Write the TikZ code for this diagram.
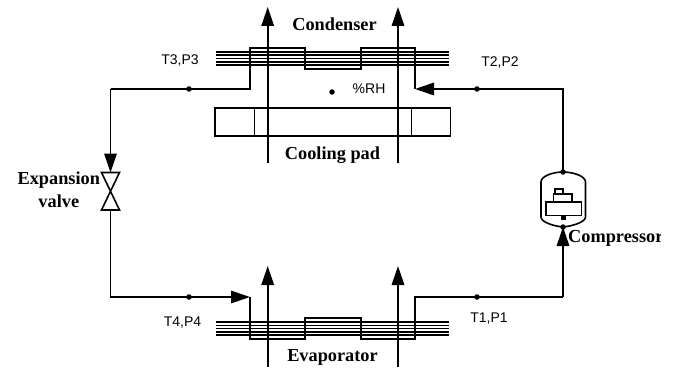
\documentclass[tikz,border=0pt]{standalone}
\usepackage{fontspec}
\setmainfont{Liberation Serif}
\setsansfont{Liberation Sans}
\usetikzlibrary{arrows.meta}
\tikzset{
pipe/.style={line width=1.6pt, line join=miter},
flow/.style={pipe, -{Triangle[length=19pt, width=12.5pt]}},
sensor/.style={shape=circle, fill, minimum size=5.5pt, inner sep=0},
part/.style={font=\bfseries\fontsize{18.3}{23}\selectfont, align=center, inner sep=0},
probe/.style={font=\sffamily\fontsize{14}{16}\selectfont, inner sep=0}}

\begin{document}
\begin{tikzpicture}[x=1pt, y=-1pt]
\useasboundingbox (0,0) rectangle (675,369);
% condenser and evaporator fins
\foreach \fy [count=\f] in {52,55.3,58.6,62,65}{
      \coordinate (c-l-\f) at (216,\fy);
      \coordinate (c-r-\f) at (449,\fy);
      \draw [pipe] (c-l-\f) -- (c-r-\f);
}
\foreach \fy [count=\f] in {322,325.3,328.6,332,335}{
      \coordinate (e-l-\f) at (216,\fy);
      \coordinate (e-r-\f) at (449,\fy);
      \draw [pipe] (e-l-\f) -- (e-r-\f);
}
% air streams
\foreach \ax [count=\a] in {267.7,398}{
      \coordinate (ctail-\a) at (\ax,163);
      \coordinate (ctip-\a) at (\ax,7);
      \coordinate (etail-\a) at (\ax,367);
      \coordinate (etip-\a) at (\ax,266);
      \draw [flow] (ctail-\a) -- (ctip-\a);
      \draw [flow] (etail-\a) -- (etip-\a);
}
% cooling pad
\node [draw, pipe, minimum width=235.5pt, minimum height=28pt, inner sep=0] at (332.8,122) (pad) {};
\foreach \dx [count=\d] in {254.3,411.3}{
      \coordinate (div-\d) at (\dx,122);
      \draw [pipe] (pad.north -| div-\d) -- (pad.south -| div-\d);
}
% valve and compressor
\coordinate (v-top) at (110.5,172.5);
\coordinate (v-bot) at (110.5,210);
\draw [pipe] (101.5,172.5) -- (119.5,172.5) -- (101.5,210) -- (119.5,210) -- cycle;
\node [sensor] at (563,172) (comp-top) {};
\node [sensor] at (563,227) (comp-bot) {};
\draw [pipe] (541,182) .. controls (541,176) and (553,172) .. (comp-top.center)
      .. controls (573,172) and (585.5,176) .. (585.5,182) -- (585.5,217)
      .. controls (585.5,222) and (573,226) .. (comp-bot.center)
      .. controls (553,226) and (541,222) .. (541,217) -- cycle;
\draw [pipe] (546,202) rectangle (581.5,215.5);
\draw [pipe] (553.5,202) rectangle (572,194);
\draw [pipe] (555,194) rectangle (563,189);
\fill (560.5,215.5) rectangle (565.5,219.5);
% refrigerant line
\node [sensor] at (189,89) (s-3) {};
\node [sensor] at (477,89) (s-2) {};
\node [sensor] at (189,297) (s-4) {};
\node [sensor] at (477,297) (s-1) {};
\coordinate (in-c) at (415,89);
\coordinate (in-e) at (250,297);
\draw [flow] (comp-top.center) |- (s-2.center) -- (in-c);
\draw [pipe] (in-c) -- (415,48) -- (360.7,48) -- (360.7,69) -- (305,69) -- (305,48) -- (250,48) -- (250,89) -- (s-3.center) -- (110.5,89) coordinate (corner-1);
\draw [flow] (corner-1) -- (v-top);
\draw [flow] (v-bot) |- (s-4.center) -- (in-e);
\draw [pipe] (in-e) -- (250,339) -- (305,339) -- (305,318) -- (360.7,318) -- (360.7,339) -- (415,339) -- (415,297) -- (s-1.center) -- (563,297) coordinate (corner-2);
\draw [flow] (corner-2) -- (comp-bot.center);
% labels
\node [part] at (334.5,24) (condenser) {Condenser};
\node [part] at (332.5,155) (coolingpad) {Cooling pad};
\node [part] at (332.5,357) (evaporator) {Evaporator};
\node [part] at (58.8,190) (valve) {Expansion\\valve};
\begin{scope}
\clip (560,225) rectangle (660,250);
\node [part, anchor=west] at (568,238) (compressor) {Compressor};
\end{scope}
\node [sensor] at (332,92) (rh) {};
\node [probe, anchor=west] at (352.5,89) (rh-text) {\%RH};
\node [probe] at (180,61) (t3) {T3,P3};
\node [probe] at (500,63) (t2) {T2,P2};
\node [probe] at (182.5,323) (t4) {T4,P4};
\node [probe] at (489,319) (t1) {T1,P1};
\end{tikzpicture}
\end{document}
